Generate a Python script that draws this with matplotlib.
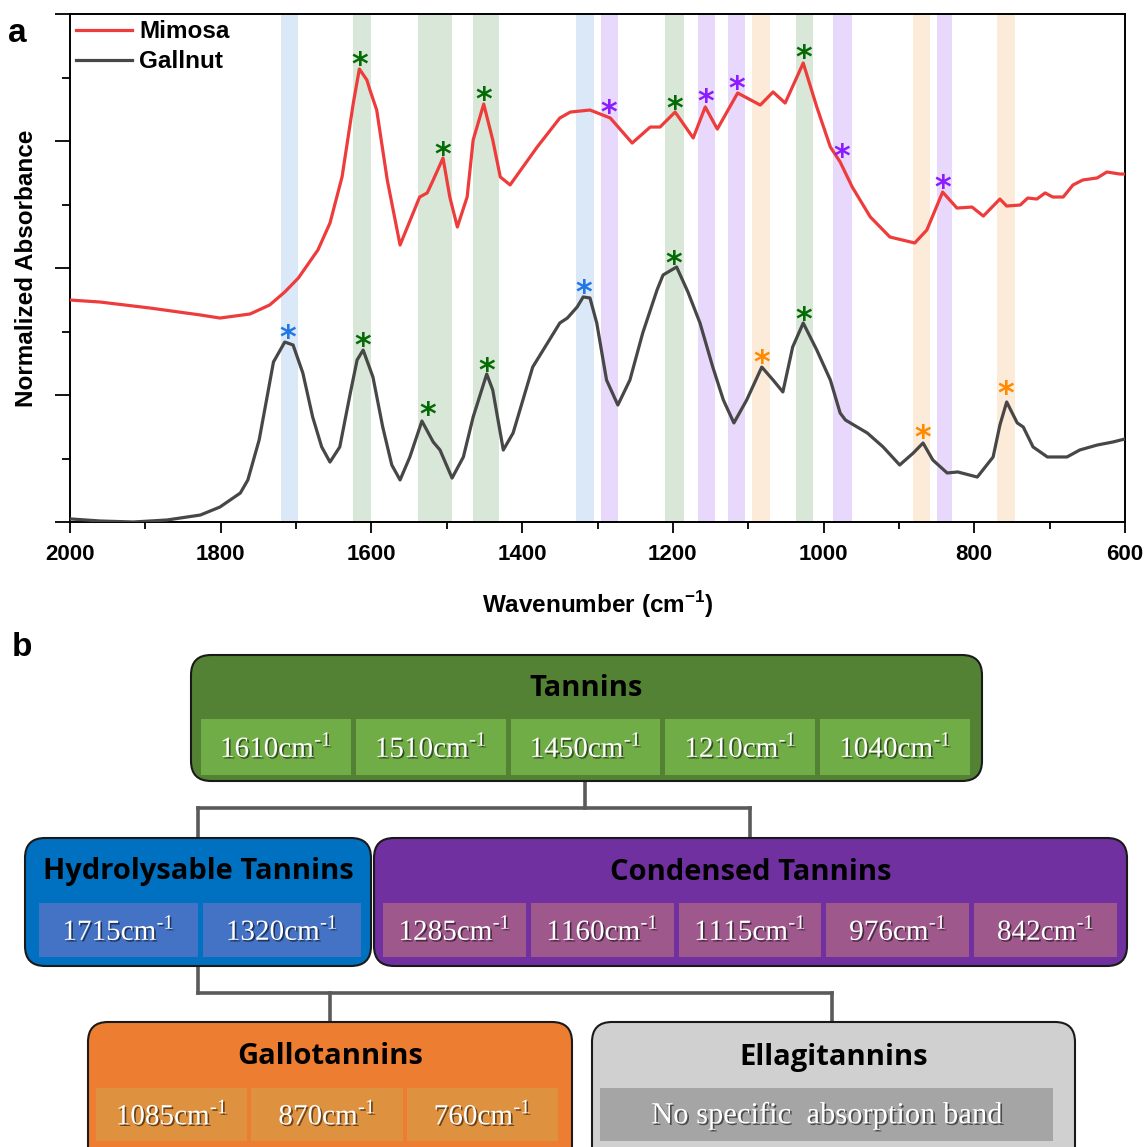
import numpy as np
import matplotlib
matplotlib.use("Agg")
import matplotlib.pyplot as plt
import matplotlib.patheffects as pe
from matplotlib.patches import FancyBboxPatch, Rectangle

plt.rcParams['font.family'] = ['Liberation Sans', 'DejaVu Sans']
plt.rcParams['mathtext.fontset'] = 'custom'
plt.rcParams['mathtext.rm'] = 'Liberation Serif'
plt.rcParams['mathtext.bf'] = 'Liberation Sans:bold'

# ---- spectra ----
mimosa_wn = [2000, 1960, 1894, 1827, 1801, 1761, 1735, 1715, 1697, 1671, 1655, 1639, 1624, 1616, 1606, 1602,
             1593, 1579, 1562, 1536, 1526, 1518, 1505, 1496, 1486, 1473, 1465, 1451, 1439, 1429, 1416,
             1380, 1350, 1336, 1310, 1283, 1254, 1230, 1217, 1197, 1173, 1157, 1141, 1114, 1084, 1067,
             1051, 1027, 1009, 991, 978, 962, 938, 912, 879, 863, 842, 823, 803, 788, 766,
             757, 739, 729, 717, 706, 696, 682, 669, 656, 637, 624, 607, 600]
mimosa_abs = [1.748, 1.732, 1.685, 1.630, 1.606, 1.638, 1.709, 1.811, 1.921, 2.142, 2.354, 2.717, 3.300, 3.567, 3.480, 3.402,
              3.244, 2.693, 2.181, 2.559, 2.591, 2.693, 2.866, 2.559, 2.323, 2.559, 3.008, 3.291, 3.008, 2.717, 2.654,
              2.953, 3.181, 3.228, 3.244, 3.181, 2.984, 3.110, 3.110, 3.228, 3.024, 3.268, 3.094, 3.378, 3.283, 3.386,
              3.299, 3.614, 3.268, 2.953, 2.835, 2.638, 2.402, 2.244, 2.197, 2.299, 2.598, 2.472, 2.480, 2.409, 2.543,
              2.488, 2.496, 2.551, 2.543, 2.591, 2.559, 2.559, 2.654, 2.693, 2.709, 2.756, 2.740, 2.740]

gallnut_wn = [1999, 1960, 1916, 1871, 1827, 1801, 1774, 1764, 1749, 1738, 1730, 1715, 1704, 1691, 1678,
              1666, 1655, 1642, 1628, 1619, 1611, 1598, 1585, 1573, 1562, 1549, 1533, 1518, 1509, 1493,
              1478, 1465, 1447, 1439, 1425, 1412, 1386, 1350, 1340, 1327, 1319, 1310, 1301, 1288, 1273,
              1257, 1240, 1221, 1213, 1195, 1180, 1164, 1147, 1133, 1119, 1102, 1082, 1067, 1054, 1041,
              1027, 1009, 991, 978, 971, 942, 921, 899, 881, 868, 855, 836, 822, 796, 775,
              766, 757, 743, 735, 722, 703, 677, 660, 637, 616, 600]
gallnut_abs = [0.024, 0.008, 0.0, 0.016, 0.055, 0.118, 0.228, 0.331, 0.646, 1.000, 1.260, 1.417, 1.394, 1.173, 0.827,
               0.591, 0.472, 0.591, 1.016, 1.276, 1.354, 1.142, 0.748, 0.449, 0.331, 0.512, 0.795, 0.630, 0.567, 0.346,
               0.512, 0.827, 1.165, 1.039, 0.567, 0.701, 1.220, 1.567, 1.606, 1.693, 1.772, 1.764, 1.567, 1.118, 0.921,
               1.118, 1.488, 1.827, 1.945, 2.008, 1.811, 1.567, 1.220, 0.961, 0.780, 0.961, 1.220, 1.118, 1.024, 1.378,
               1.567, 1.354, 1.118, 0.858, 0.803, 0.701, 0.591, 0.449, 0.543, 0.622, 0.488, 0.386, 0.394, 0.354, 0.512,
               0.764, 0.945, 0.780, 0.748, 0.591, 0.512, 0.512, 0.567, 0.606, 0.630, 0.654]

# shaded bands: (high wn, low wn, group)
band_hi = [1720, 1624, 1538, 1465, 1329, 1295, 1210, 1167, 1127, 1095, 1037, 988, 881, 850, 770]
band_lo = [1697, 1601, 1493, 1431, 1305, 1273, 1185, 1144, 1104, 1071, 1014, 962, 859, 830, 746]
band_grp = ['hyd', 'tan', 'tan', 'tan', 'hyd', 'con', 'tan', 'con', 'con', 'gal', 'tan', 'con', 'gal', 'con', 'gal']

# asterisks (wn, absorbance, group)
star_wn = [1615, 1505, 1451, 1285, 1197, 1156, 1115, 1027, 976, 842,
           1711, 1611, 1525, 1447, 1318, 1199, 1082, 1027, 869, 758]
star_abs = [3.638, 2.929, 3.362, 3.260, 3.291, 3.346, 3.449, 3.693, 2.913, 2.669,
            1.488, 1.425, 0.882, 1.228, 1.843, 2.071, 1.291, 1.630, 0.701, 1.047]
star_grp = ['tan', 'tan', 'tan', 'con', 'tan', 'con', 'con', 'tan', 'con', 'con',
            'hyd', 'tan', 'tan', 'tan', 'hyd', 'tan', 'gal', 'tan', 'gal', 'gal']

band_colors = {'hyd': '#dbe8f7', 'tan': '#d8e7d8', 'con': '#e8d8fb', 'gal': '#fdebd9'}
star_colors = {'hyd': '#1f78e6', 'tan': '#046a04', 'con': '#8a1cff', 'gal': '#ff8a00'}

# ---- flowchart text ----
tannin_bands = ['1610', '1510', '1450', '1210', '1040']
hydro_bands = ['1715', '1320']
condensed_bands = ['1285', '1160', '1115', '976', '842']
gallo_bands = ['1085', '870', '760']

W, H = 1146, 1147
fig = plt.figure(figsize=(W / 100, H / 100), dpi=100)

ax = fig.add_axes([70 / W, 1 - 522 / H, (1125 - 70) / W, (522 - 14) / H])
for hi, lo, g in zip(band_hi, band_lo, band_grp):
    ax.axvspan(lo, hi, color=band_colors[g], lw=0, zorder=0)
ax.plot(mimosa_wn, mimosa_abs, color='#ee3b3b', lw=2.3, label='Mimosa', zorder=3,
        solid_joinstyle='round')
ax.plot(gallnut_wn, gallnut_abs, color='#474747', lw=2.3, label='Gallnut', zorder=3,
        solid_joinstyle='round')
for w, a, g in zip(star_wn, star_abs, star_grp):
    ax.annotate('*', (w, a), xytext=(0, -4), textcoords='offset points',
                color=star_colors[g], fontsize=23, fontweight='bold',
                ha='center', va='center', zorder=4, family='DejaVu Sans')

ax.set_xlim(2000, 600)
ax.set_ylim(0, 4)
ax.set_xticks(np.arange(2000, 599, -200))
ax.set_xticks(np.arange(1900, 600, -200), minor=True)
ax.set_yticks(np.arange(0, 4.1, 1))
ax.set_yticks(np.arange(0.5, 4, 1), minor=True)
ax.set_yticklabels([])
ax.tick_params(which='major', direction='out', length=8, width=1.3, labelsize=16, pad=8)
ax.tick_params(which='minor', direction='out', length=5, width=1.3)
ax.tick_params(axis='y', which='major', length=11)
ax.tick_params(axis='y', which='minor', length=6)
for lab in ax.get_xticklabels():
    lab.set_fontweight('bold')
for s in ax.spines.values():
    s.set_linewidth(1.4)
ax.set_xlabel(r'Wavenumber (cm$^{\mathbf{-1}}$)', fontsize=17.5, fontweight='bold', labelpad=17)
ax.set_ylabel('Normalized Absorbance', fontsize=17.5, fontweight='bold', labelpad=4)
ax.legend(loc='upper left', frameon=False, prop={'weight': 'bold', 'size': 17.5},
          handlelength=2.3, handletextpad=0.3, labelspacing=0.3, borderpad=0.1, borderaxespad=0.15)

fig.text(17 / W, 1 - 33 / H, 'a', fontsize=24, fontweight='bold', ha='center', va='center')
fig.text(22 / W, 1 - 647 / H, 'b', fontsize=24, fontweight='bold', ha='center', va='center')

# ---- flowchart ----
dax = fig.add_axes([0, 0, 1, 1], zorder=-1)
dax.set_xlim(0, W)
dax.set_ylim(H, 0)
dax.axis('off')

shadow = [pe.withSimplePatchShadow(offset=(1.2, -1.2), shadow_rgbFace='black', alpha=0.55)]


def group_box(x0, x1, y0, y1, face, title, title_y, cells, cell_face, cx0, cx1, cy0, cy1, gap, cell_fs=21):
    dax.add_patch(FancyBboxPatch((x0, y0), x1 - x0, y1 - y0,
                                 boxstyle='round,pad=0,rounding_size=20',
                                 fc=face, ec='#1a1a1a', lw=1.5, zorder=1))
    dax.text((x0 + x1) / 2, title_y, title, fontsize=21, fontweight='bold',
             family='Open Sans', ha='center', va='center', color='black', zorder=3)
    n = len(cells)
    cw = (cx1 - cx0 - gap * (n - 1)) / n
    for i, lab in enumerate(cells):
        xs = cx0 + i * (cw + gap)
        dax.add_patch(Rectangle((xs, cy0), cw, cy1 - cy0, fc=cell_face, ec='none', zorder=2))
        dax.text(xs + cw / 2, (cy0 + cy1) / 2 + 1, lab, fontsize=cell_fs, family='Liberation Serif',
                 color='white', ha='center', va='center', zorder=3, path_effects=shadow)


def cm(vals):
    return [v + 'cm$^{\\mathrm{\u2010}\\mathrm{1}}$' for v in vals]


lc = '#5a5a5a'
clw = 2.6
# connectors
dax.plot([585, 585], [781, 808], color=lc, lw=clw, zorder=0)
dax.plot([198, 750], [808, 808], color=lc, lw=clw, zorder=0)
dax.plot([198, 198], [808, 838], color=lc, lw=clw, zorder=0)
dax.plot([750, 750], [808, 838], color=lc, lw=clw, zorder=0)
dax.plot([198, 198], [966, 993], color=lc, lw=clw, zorder=0)
dax.plot([198, 832], [993, 993], color=lc, lw=clw, zorder=0)
dax.plot([330, 330], [993, 1022], color=lc, lw=clw, zorder=0)
dax.plot([832, 832], [993, 1022], color=lc, lw=clw, zorder=0)

group_box(191, 982, 655, 781, '#548235', 'Tannins', 689, cm(tannin_bands), '#70ad47',
          201, 970, 719, 775, 5)
group_box(25, 371, 838, 966, '#0070c0', 'Hydrolysable Tannins', 872, cm(hydro_bands), '#4472c4',
          39, 361, 903, 957, 5)
group_box(374, 1127, 838, 966, '#7030a0', 'Condensed Tannins', 872, cm(condensed_bands), '#9e588c',
          383, 1117, 903, 957, 5)
group_box(88, 572, 1022, 1170, '#ed7d31', 'Gallotannins', 1057, cm(gallo_bands), '#de913f',
          96, 558, 1088, 1141, 4)
group_box(592, 1075, 1022, 1170, '#d0d0d0', 'Ellagitannins', 1057, ['No specific  absorption band'], '#a5a5a5',
          600, 1053, 1088, 1141, 4, cell_fs=22)

fig.savefig('out.png', dpi=100)
